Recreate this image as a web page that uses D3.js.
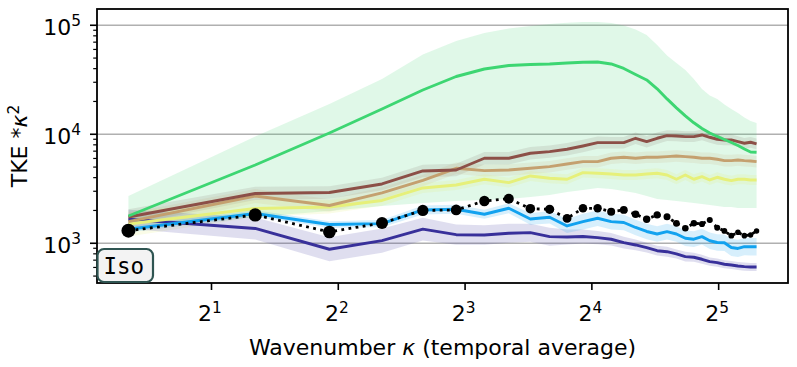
<!DOCTYPE html>
<html><head><meta charset="utf-8">
<script src="https://cdn.jsdelivr.net/npm/d3@7"></script>
<style>html,body{margin:0;padding:0;background:#fff;} svg{display:block;}</style>
</head><body><svg id="c" width="797" height="367"></svg>
<script>
// ---- data ----
const kappa = [1.27, 2.54, 3.81, 5.08, 6.35, 7.62, 8.89, 10.16, 11.43, 12.70, 13.97, 15.24, 16.51, 17.78, 19.05, 20.32, 21.59, 22.86, 24.13, 25.40, 26.67, 27.94, 29.21, 30.48, 31.75, 33.02, 34.29, 35.56, 36.83, 38.10, 39.37];
const xTickExps = [1, 2, 3, 4, 5];
const yTickExps = [3, 4, 5];

const refDots = [1305, 1818, 1270, 1535, 2000, 2021, 2443, 2565, 2075, 2049, 1690, 2094, 2094, 1950, 2021, 1845, 1660, 1820, 1755, 1525, 1372, 1525, 1503, 1636, 1390, 1297, 1174, 1262, 1174, 1192, 1297];
const refDotRadius = [7, 6.6, 6.3, 6, 5.6, 5.4, 5.2, 5, 4.8, 4.6, 4.4, 4.3, 4.2, 4, 3.9, 3.8, 3.7, 3.6, 3.5, 3.4, 3.3, 3.2, 3.1, 3.0, 3.0, 2.9, 2.9, 2.8, 2.8, 2.7, 2.7];

const green = [1779, 5224, 10280, 17060, 25480, 33880, 39700, 42760, 43650, 44130, 45090, 45780, 46080, 44130, 40150, 35400, 31500, 26100, 21100, 17470, 14760, 12740, 11310, 10280, 9550, 8960, 8410, 7890, 7330, 6880, 6840];
const greenLo = [1472, 1743, 1978, 2199, 2343, 2444, 2496, 2550, 2660, 2774, 2955, 3083, 3217, 3150, 3018, 2890, 2716, 2550, 2496, 2444, 2393, 2343, 2294, 2246, 2199, 2153, 2153, 2108, 2108, 2108, 2108];
const greenHi = [2716, 9546, 18970, 32160, 53960, 71780, 85000, 93460, 98540, 102800, 105400, 107200, 107400, 105000, 99600, 91500, 81500, 65970, 52840, 45100, 38900, 32160, 26040, 22700, 21080, 18770, 17070, 15680, 14260, 13240, 12700];

const brown = [1743, 2863, 2924, 3499, 4606, 4704, 6024, 6024, 6694, 6924, 7285, 7809, 8374, 8374, 8374, 9190, 8553, 9190, 9710, 9647, 9506, 9506, 9854, 9386, 8998, 8866, 8866, 8553, 8268, 8445, 8147];
const brownErr = [1.18, 1.15, 1.14, 1.14, 1.14, 1.14, 1.14, 1.14, 1.14, 1.14, 1.14, 1.14, 1.14, 1.13, 1.13, 1.13, 1.13, 1.13, 1.12, 1.12, 1.12, 1.12, 1.12, 1.12, 1.12, 1.12, 1.12, 1.12, 1.12, 1.12, 1.12];

const tan = [1578, 2716, 2222, 2894, 3769, 4876, 4636, 4704, 4876, 5044, 5339, 5605, 5605, 6024, 6152, 6024, 6152, 6152, 6231, 6323, 6231, 6152, 6024, 6024, 5898, 5727, 5727, 5812, 5727, 5689, 5605];
const tanErr = [1.2, 1.16, 1.14, 1.13, 1.13, 1.13, 1.13, 1.13, 1.13, 1.13, 1.13, 1.13, 1.13, 1.13, 1.13, 1.13, 1.13, 1.13, 1.13, 1.13, 1.13, 1.13, 1.13, 1.13, 1.13, 1.13, 1.13, 1.13, 1.13, 1.13, 1.13];

const yellow = [1503, 2086, 2153, 2470, 3217, 3426, 3866, 3597, 4144, 3948, 3866, 4443, 4387, 4323, 4232, 4232, 4323, 4387, 4232, 3866, 4232, 3866, 4083, 3808, 4032, 3866, 3752, 3866, 3866, 3808, 3808];
const yellowErr = [1.3, 1.2, 1.15, 1.12, 1.11, 1.11, 1.11, 1.11, 1.11, 1.11, 1.11, 1.11, 1.11, 1.11, 1.11, 1.11, 1.11, 1.11, 1.11, 1.11, 1.11, 1.11, 1.11, 1.11, 1.11, 1.11, 1.11, 1.11, 1.11, 1.11, 1.11];

const blue = [1344, 1877, 1488, 1513, 2021, 2051, 1845, 2095, 1671, 1732, 1441, 1578, 1696, 1578, 1551, 1396, 1283, 1217, 1278, 1217, 1111, 1090, 1150, 1054, 1017, 1011, 915, 896, 931, 929, 929];
const blueErr = [1.07, 1.07, 1.07, 1.08, 1.1, 1.1, 1.1, 1.11, 1.13, 1.14, 1.16, 1.18, 1.18, 1.18, 1.18, 1.18, 1.18, 1.18, 1.18, 1.18, 1.18, 1.18, 1.18, 1.19, 1.19, 1.19, 1.2, 1.2, 1.2, 1.2, 1.2];

const purple = [1660, 1367, 881, 1057, 1347, 1199, 1192, 1235, 1251, 1150, 1142, 1154, 1126, 1088, 1013, 965, 911, 855, 837, 798, 754, 744, 713, 678, 664, 642, 632, 619, 610, 606, 606];
const purpleErr = [1.22, 1.26, 1.29, 1.29, 1.27, 1.24, 1.23, 1.22, 1.21, 1.21, 1.17, 1.16, 1.15, 1.14, 1.13, 1.12, 1.11, 1.11, 1.11, 1.1, 1.11, 1.1, 1.1, 1.09, 1.09, 1.09, 1.09, 1.09, 1.09, 1.09, 1.09];

// ---- layout ----
const W = 797, H = 367;
const M = {left: 97, right: 788, top: 9, bottom: 283};
const FONT = "'DejaVu Sans', sans-serif";

const svg = d3.select('#c');
const x = d3.scaleLog().base(2).domain([1.0695, 46.75]).range([M.left, M.right]);
const y = d3.scaleLog().domain([432, 141000]).range([M.bottom, M.top]);

svg.append('defs').append('clipPath').attr('id', 'clip')
  .append('rect').attr('x', M.left).attr('y', M.top)
  .attr('width', M.right - M.left).attr('height', M.bottom - M.top);

// grid
const grid = svg.append('g');
yTickExps.forEach(e => {
  grid.append('line').attr('x1', M.left).attr('x2', M.right)
    .attr('y1', y(Math.pow(10, e))).attr('y2', y(Math.pow(10, e)))
    .attr('stroke', '#b0b0b0').attr('stroke-width', 1.6);
});

const plot = svg.append('g').attr('clip-path', 'url(#clip)');

const series = [
  {v: green, lo: greenLo, hi: greenHi, color: '#3dd672', fill: 'rgba(61,214,114,0.16)'},
  {v: brown, lo: brown.map((d, i) => d / brownErr[i]), hi: brown.map((d, i) => d * brownErr[i]), color: '#8c4f47', fill: 'rgba(120,100,90,0.14)'},
  {v: tan, lo: tan.map((d, i) => d / tanErr[i]), hi: tan.map((d, i) => d * tanErr[i]), color: '#c4a06f', fill: 'rgba(196,160,111,0.14)'},
  {v: yellow, lo: yellow.map((d, i) => d / yellowErr[i]), hi: yellow.map((d, i) => d * yellowErr[i]), color: '#e6f07a', fill: 'rgba(230,240,122,0.18)'},
  {v: purple, lo: purple.map((d, i) => d / purpleErr[i]), hi: purple.map((d, i) => d * purpleErr[i]), color: '#38309a', fill: 'rgba(56,48,154,0.16)'},
  {v: blue, lo: blue.map((d, i) => d / blueErr[i]), hi: blue.map((d, i) => d * blueErr[i]), color: '#12a2ef', fill: 'rgba(18,162,239,0.17)'}
];

const area = (lo, hi) => d3.area().x((d, i) => x(kappa[i])).y0((d, i) => y(lo[i])).y1((d, i) => y(hi[i]))(kappa);
const line = vals => d3.line().x((d, i) => x(kappa[i])).y((d, i) => y(vals[i]))(kappa);

series.forEach(s => {
  plot.append('path').attr('d', area(s.lo, s.hi)).attr('fill', s.fill).attr('stroke', 'none');
});
const lineOrder = [4, 5, 3, 2, 1, 0];
lineOrder.forEach(j => {
  const s = series[j];
  plot.append('path').attr('d', line(s.v)).attr('fill', 'none')
    .attr('stroke', s.color).attr('stroke-width', 2.9).attr('stroke-linejoin', 'round');
});

// reference: dotted black with markers
plot.append('path').attr('d', line(refDots)).attr('fill', 'none')
  .attr('stroke', '#000').attr('stroke-width', 2.8).attr('stroke-dasharray', '2.8,4.4');
plot.selectAll('circle.ref').data(refDots).enter().append('circle')
  .attr('cx', (d, i) => x(kappa[i])).attr('cy', d => y(d))
  .attr('r', (d, i) => refDotRadius[i]).attr('fill', '#000');

// axes ticks
const ax = svg.append('g');
const [y0, y1] = y.domain();
for (let e = 2; e <= 5; e++) {
  for (let mm = 1; mm <= 9; mm++) {
    const v = mm * Math.pow(10, e);
    if (v < y0 || v > y1) continue;
    const len = mm === 1 ? 7 : 3.8;
    ax.append('line').attr('x1', M.left - len).attr('x2', M.left)
      .attr('y1', y(v)).attr('y2', y(v)).attr('stroke', '#000').attr('stroke-width', mm === 1 ? 1.6 : 1.2);
  }
}
yTickExps.forEach(e => {
  const t = ax.append('text').attr('x', 81).attr('y', y(Math.pow(10, e)) + 9.5)
    .attr('text-anchor', 'end').attr('font-family', FONT).attr('font-size', 22).attr('fill', '#000');
  t.append('tspan').text('10');
  t.append('tspan').attr('dy', -8.5).attr('font-size', 15.4).text(String(e));
});
xTickExps.forEach(e => {
  const px = x(Math.pow(2, e));
  ax.append('line').attr('x1', px).attr('x2', px).attr('y1', M.bottom).attr('y2', M.bottom + 7)
    .attr('stroke', '#000').attr('stroke-width', 1.6);
  const t = ax.append('text').attr('x', px - 1.5).attr('y', 321)
    .attr('text-anchor', 'middle').attr('font-family', FONT).attr('font-size', 22).attr('fill', '#000');
  t.append('tspan').text('2');
  t.append('tspan').attr('dy', -8.5).attr('font-size', 15.4).text(String(e));
});

// frame
svg.append('rect').attr('x', M.left).attr('y', M.top)
  .attr('width', M.right - M.left).attr('height', M.bottom - M.top)
  .attr('fill', 'none').attr('stroke', '#000').attr('stroke-width', 1.8);

// axis labels
const xl = svg.append('text').attr('x', (M.left + M.right) / 2).attr('y', 355)
  .attr('text-anchor', 'middle').attr('font-family', FONT).attr('font-size', 22).attr('fill', '#000');
xl.append('tspan').text('Wavenumber ');
xl.append('tspan').attr('font-style', 'italic').text('κ');
xl.append('tspan').text(' (temporal average)');

const yl = svg.append('text').attr('transform', `translate(27,${(M.top + M.bottom) / 2}) rotate(-90)`)
  .attr('text-anchor', 'middle').attr('font-family', FONT).attr('font-size', 22).attr('fill', '#000');
yl.append('tspan').text('TKE *');
yl.append('tspan').attr('font-style', 'italic').text('κ');
yl.append('tspan').attr('dy', -8.5).attr('font-size', 15.4).text('2');

// Iso box
const box = svg.append('g');
box.append('rect').attr('x', 97.5).attr('y', 249).attr('width', 55.5).attr('height', 33)
  .attr('rx', 6.5).attr('ry', 6.5).attr('fill', '#f3f3f3').attr('stroke', '#2f5552').attr('stroke-width', 2.2);
box.append('text').attr('x', 103.5).attr('y', 273.5).attr('font-family', "'DejaVu Sans Mono', monospace")
  .attr('font-size', 22.5).attr('fill', '#000').text('Iso');
</script>
</body></html>
